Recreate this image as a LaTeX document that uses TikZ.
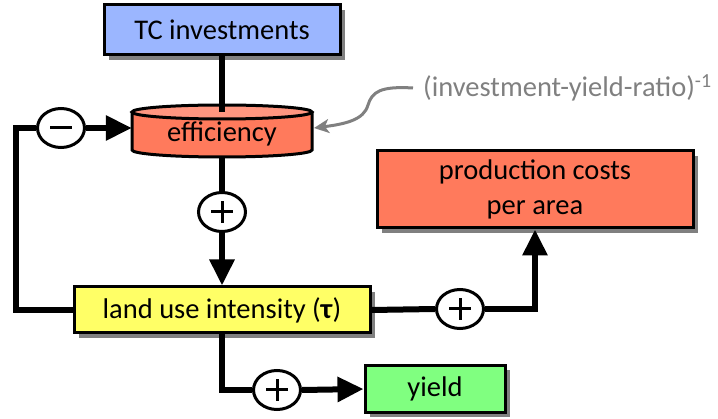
\documentclass[tikz,border=0pt]{standalone}
\usepackage{fontspec}
\setmainfont{Carlito}
\usetikzlibrary{arrows.meta,shapes.geometric,shadows}
\definecolor{tcblue}{RGB}{155,182,255}
\definecolor{salmon}{RGB}{255,122,92}
\definecolor{salmontop}{RGB}{255,150,128}
\definecolor{landyellow}{RGB}{255,255,102}
\definecolor{yieldgreen}{RGB}{128,255,128}
\definecolor{shadowgray}{RGB}{128,128,128}
\definecolor{labelgray}{RGB}{128,128,128}
\begin{document}
\begin{tikzpicture}[x=1pt,y=-1pt,
  every node/.style={font=\fontsize{28.5}{35}\selectfont},
  box/.style={draw=black,line width=3pt,inner sep=0pt,align=center,
    drop shadow={shadow xshift=5pt,shadow yshift=-5pt,fill=shadowgray,opacity=1}},
  sign/.style={ellipse,draw=black,line width=3pt,fill=white,minimum width=47pt,minimum height=39pt,inner sep=0pt},
  plussign/.style={sign,path picture={
    \draw[line width=3pt] ([xshift=-11pt]path picture bounding box.center) -- ([xshift=11pt]path picture bounding box.center);
    \draw[line width=3pt] ([yshift=-11pt]path picture bounding box.center) -- ([yshift=11pt]path picture bounding box.center);}},
  minussign/.style={sign,path picture={
    \draw[line width=3pt] ([xshift=-11pt]path picture bounding box.center) -- ([xshift=11pt]path picture bounding box.center);}},
  conn/.style={line width=6pt,draw=black},
  arr/.style={conn,-{Triangle[length=26pt,width=24pt]}},
  grayarr/.style={line width=3pt,draw=labelgray,-{Stealth[length=15pt,width=14pt,inset=4pt]}},
]
\useasboundingbox (0,0) rectangle (718,419);

% boxes
\node[box,fill=tcblue,minimum width=236pt,minimum height=50pt] (tc) at (222,30) {TC investments};
\node[box,fill=landyellow,minimum width=296pt,minimum height=46pt] (land) at (222,310) {land use intensity (\textbf{τ})};
\node[box,fill=salmon,minimum width=316pt,minimum height=77pt] (prod) at (535,189.5) {production costs\\per area};
\node[box,fill=yieldgreen,minimum width=140pt,minimum height=47pt] (yield) at (435,389) {yield};

% cylinder "efficiency"
\fill[salmon] (132,112) -- (132,150) arc[start angle=180,end angle=360,x radius=90pt,y radius=7pt] -- (312,112) -- cycle;
\draw[line width=3pt] (132,112) -- (132,150) arc[start angle=180,end angle=360,x radius=90pt,y radius=7pt] -- (312,112);
\draw[line width=3pt,fill=salmontop] (222,112) ellipse [x radius=90pt,y radius=7pt];
\coordinate (efftop) at (222,112);
\coordinate (effbot) at (222,157);
\node[inner sep=0pt,minimum width=180pt,minimum height=45pt] (eff) at (222,134) {efficiency};

% signs
\node[minussign] (m) at (61,128) {};
\node[plussign] (p1) at (222,212) {};
\node[plussign] (p2) at (460,309) {};
\node[plussign] (p3) at (277,390) {};

% label
\node[text=labelgray,inner sep=0pt,anchor=west] (ratio) at (423,88) {(investment-yield-ratio)\textsuperscript{-1}};

% connectors
\draw[conn] (tc.south) -- (efftop);
\draw[conn] (effbot) -- (p1.north);
\draw[arr] (p1.south) -- (land.north);
\coordinate (fb) at (16,128);
\draw[conn] (land.west) -| (fb) -- (m.west);
\draw[arr] (m.east) -- (m -| eff.west);
\draw[conn] (land.east) -- (p2.west);
\draw[arr] (p2.east) -| (prod.south);
\draw[conn] (land.south) |- (p3.west);
\draw[arr] (p3.east) -- (yield.west);
\draw[grayarr] ([xshift=-10pt]ratio.west) .. controls (380,86) and (372,92) .. (368,105) .. controls (364,120) and (345,124) .. (314,128);
\end{tikzpicture}
\end{document}
